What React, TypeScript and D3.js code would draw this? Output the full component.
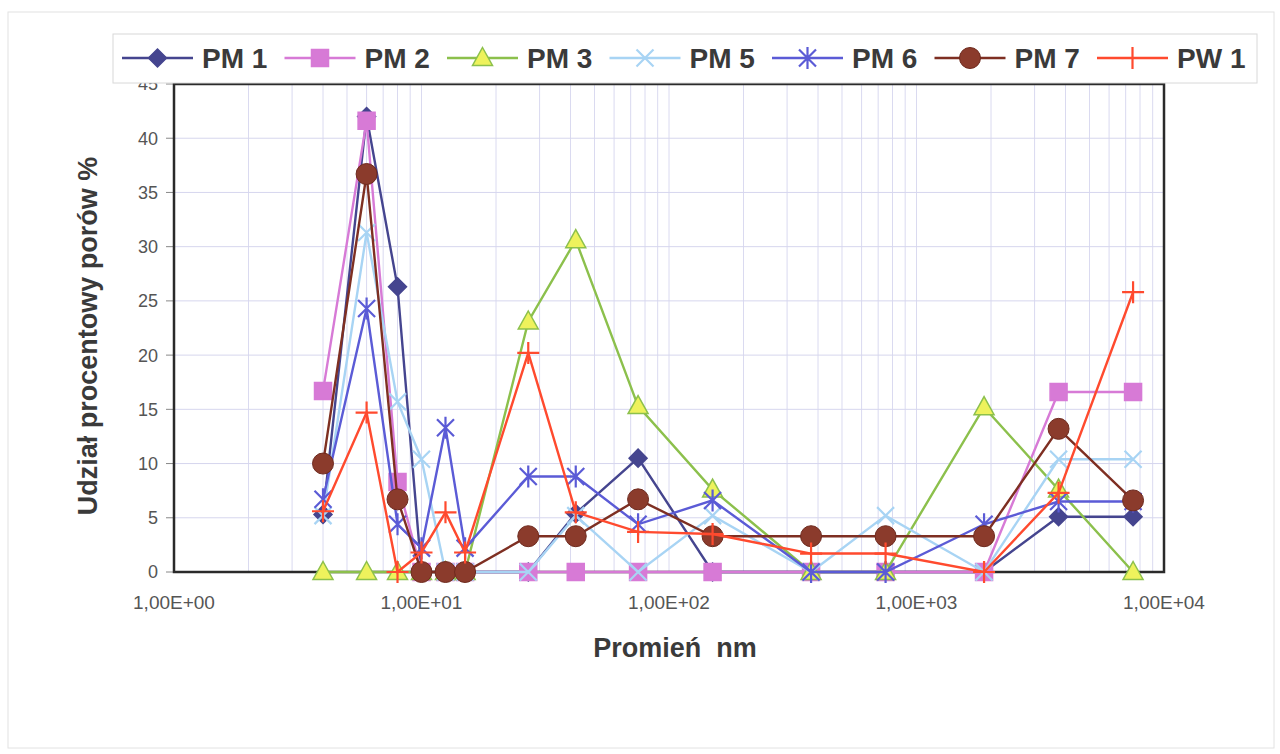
import { useEffect, useRef } from "react";
import * as d3 from "d3";

const WIDTH = 1280;
const HEIGHT = 754;

// pore radius (nm) – shared x values
const radii = [4, 6, 8, 10, 12.5, 15, 27, 42, 75, 150, 375, 750, 1875, 3750, 7500];

const pm1 = [5.3, 42.0, 26.3, 0, 0, 0, 0, 5.4, 10.5, 0, 0, 0, 0, 5.1, 5.1];
const pm2 = [16.7, 41.6, 8.3, 0, 0, 0, 0, 0, 0, 0, 0, 0, 0, 16.6, 16.6];
const pm3 = [0, 0, 0, 0, 0, 0, 23.1, 30.6, 15.3, 7.6, 0, 0, 15.2, 7.6, 0];
const pm5 = [5.2, 31.3, 15.7, 10.4, 0, 0, 0, 5.2, 0, 5.2, 0, 5.2, 0, 10.4, 10.4];
const pm6 = [6.7, 24.3, 4.4, 2.2, 13.3, 2.2, 8.8, 8.8, 4.4, 6.6, 0, 0, 4.4, 6.5, 6.5];
const pm7 = [10.0, 36.7, 6.7, 0, 0, 0, 3.3, 3.3, 6.7, 3.3, 3.3, 3.3, 3.3, 13.2, 6.6];
const pw1 = [5.6, 14.7, 0, 1.8, 5.5, 1.8, 20.2, 5.5, 3.7, 3.5, 1.7, 1.7, 0, 7.3, 25.8];

const seriesNames = ["PM 1", "PM 2", "PM 3", "PM 5", "PM 6", "PM 7", "PW 1"];
const xTickLabels = ["1,00E+00", "1,00E+01", "1,00E+02", "1,00E+03", "1,00E+04"];
const yTicks = [0, 5, 10, 15, 20, 25, 30, 35, 40, 45];

type Marker = "diamond" | "square" | "triangle" | "x" | "asterisk" | "circle" | "plus";

const styles: { color: string; marker: Marker; fill: string; mstroke: string }[] = [
  { color: "#45458f", marker: "diamond", fill: "#45458f", mstroke: "#45458f" },
  { color: "#d77ad6", marker: "square", fill: "#d77ad6", mstroke: "#d77ad6" },
  { color: "#8cc04c", marker: "triangle", fill: "#eef25c", mstroke: "#8cc04c" },
  { color: "#a8d4f4", marker: "x", fill: "none", mstroke: "#a8d4f4" },
  { color: "#5b5bd6", marker: "asterisk", fill: "none", mstroke: "#5b5bd6" },
  { color: "#7e2f22", marker: "circle", fill: "#8b3b2c", mstroke: "#6e2a1e" },
  { color: "#ff4a2e", marker: "plus", fill: "none", mstroke: "#ff4a2e" },
];

const allSeries = [pm1, pm2, pm3, pm5, pm6, pm7, pw1];

function markerPath(m: Marker) {
  switch (m) {
    case "diamond":
      return "M0,-9L9,0L0,9L-9,0Z";
    case "square":
      return "M-8.5,-8.5H8.5V8.5H-8.5Z";
    case "triangle":
      return "M0,-10.5L10,7.5L-10,7.5Z";
    case "x":
      return "M-8.5,-8.5L8.5,8.5M-8.5,8.5L8.5,-8.5";
    case "asterisk":
      return "M-8.5,-8.5L8.5,8.5M-8.5,8.5L8.5,-8.5M0,-11V11";
    case "plus":
      return "M-11,0H11M0,-11V11";
    default:
      return "";
  }
}

function drawMarker(g: d3.Selection<SVGGElement, unknown, null, undefined>, m: Marker, cx: number, cy: number, st: (typeof styles)[number]) {
  if (m === "circle") {
    g.append("circle")
      .attr("cx", cx)
      .attr("cy", cy)
      .attr("r", 10.5)
      .attr("fill", st.fill)
      .attr("stroke", st.mstroke)
      .attr("stroke-width", 1);
    return;
  }
  g.append("path")
    .attr("transform", `translate(${cx},${cy})`)
    .attr("d", markerPath(m))
    .attr("fill", st.fill)
    .attr("stroke", st.mstroke)
    .attr("stroke-width", m === "x" || m === "asterisk" || m === "plus" ? 2.2 : 1.5);
}

export default function App() {
  const ref = useRef<SVGSVGElement>(null);

  useEffect(() => {
    if (!ref.current) return;
    const svg = d3.select(ref.current);
    svg.selectAll("*").remove();

    const left = 174,
      right = 1164,
      top = 84,
      bottom = 572;

    const x = d3.scaleLog().domain([1, 1e4]).range([left, right]);
    const y = d3.scaleLinear().domain([0, 45]).range([bottom, top]);

    // page frame
    svg
      .append("rect")
      .attr("x", 8)
      .attr("y", 12)
      .attr("width", 1266)
      .attr("height", 736)
      .attr("fill", "white")
      .attr("stroke", "#e2e2e2");

    const grid = svg.append("g");
    // vertical minor/major gridlines
    const vLines: number[] = [];
    for (let d = 0; d < 4; d++) {
      for (let m = 1; m <= 9; m++) {
        const v = m * Math.pow(10, d);
        if (v > 1) vLines.push(v);
      }
    }
    grid
      .selectAll("line.v")
      .data(vLines)
      .join("line")
      .attr("x1", (d) => x(d))
      .attr("x2", (d) => x(d))
      .attr("y1", top)
      .attr("y2", bottom)
      .attr("stroke", "#dadaf0")
      .attr("stroke-width", 1);
    grid
      .selectAll("line.h")
      .data(yTicks.slice(1, -1))
      .join("line")
      .attr("x1", left)
      .attr("x2", right)
      .attr("y1", (d) => y(d))
      .attr("y2", (d) => y(d))
      .attr("stroke", "#d6d6ee")
      .attr("stroke-width", 1);

    // y ticks and labels
    const yAx = svg.append("g");
    yAx
      .selectAll("line")
      .data(yTicks)
      .join("line")
      .attr("x1", left - 8)
      .attr("x2", left)
      .attr("y1", (d) => y(d))
      .attr("y2", (d) => y(d))
      .attr("stroke", "#888");
    yAx
      .selectAll("text")
      .data(yTicks)
      .join("text")
      .attr("x", 158)
      .attr("y", (d) => y(d))
      .attr("dy", "0.36em")
      .attr("text-anchor", "end")
      .attr("font-family", "Liberation Sans, Arial, sans-serif")
      .attr("font-size", 18)
      .attr("fill", "#555")
      .text((d) => d);

    // x labels
    svg
      .append("g")
      .selectAll("text")
      .data(xTickLabels)
      .join("text")
      .attr("x", (_, i) => x(Math.pow(10, i)))
      .attr("y", 609)
      .attr("text-anchor", "middle")
      .attr("font-family", "Liberation Sans, Arial, sans-serif")
      .attr("font-size", 19)
      .attr("fill", "#555")
      .text((d) => d);

    // plot frame
    svg
      .append("rect")
      .attr("x", left)
      .attr("y", top)
      .attr("width", right - left)
      .attr("height", bottom - top)
      .attr("fill", "none")
      .attr("stroke", "#2a2a2a")
      .attr("stroke-width", 2.5);

    // series
    const line = d3
      .line<number>()
      .x((_, i) => x(radii[i]))
      .y((d) => y(d));

    allSeries.forEach((vals, si) => {
      const st = styles[si];
      const g = svg.append("g");
      g.append("path")
        .attr("d", line(vals) as string)
        .attr("fill", "none")
        .attr("stroke", st.color)
        .attr("stroke-width", 2.4);
      vals.forEach((v, i) => drawMarker(g, st.marker, x(radii[i]), y(v), st));
    });

    // legend
    const lg = svg.append("g");
    lg.append("rect")
      .attr("x", 113)
      .attr("y", 34)
      .attr("width", 1144)
      .attr("height", 49)
      .attr("fill", "white")
      .attr("stroke", "#d8d8d8");
    seriesNames.forEach((name, i) => {
      const st = styles[i];
      const lx = 122 + i * 162.5;
      const ly = 58;
      const item = lg.append("g");
      item
        .append("line")
        .attr("x1", lx)
        .attr("x2", lx + 71)
        .attr("y1", ly)
        .attr("y2", ly)
        .attr("stroke", st.color)
        .attr("stroke-width", 2.4);
      drawMarker(item, st.marker, lx + 35.5, ly, st);
      item
        .append("text")
        .attr("x", lx + 80)
        .attr("y", ly)
        .attr("dy", "0.36em")
        .attr("font-family", "Liberation Sans, Arial, sans-serif")
        .attr("font-weight", "bold")
        .attr("font-size", 28)
        .attr("fill", "#3a3a3a")
        .text(name);
    });

    // axis titles
    svg
      .append("text")
      .attr("transform", `translate(97,${(top + bottom) / 2 + 8}) rotate(-90)`)
      .attr("text-anchor", "middle")
      .attr("font-family", "Liberation Sans, Arial, sans-serif")
      .attr("font-weight", "bold")
      .attr("font-size", 27)
      .attr("fill", "#3a3a3a")
      .text("Udział procentowy porów %");

    svg
      .append("text")
      .attr("x", 675)
      .attr("y", 657)
      .attr("text-anchor", "middle")
      .attr("font-family", "Liberation Sans, Arial, sans-serif")
      .attr("font-weight", "bold")
      .attr("font-size", 27)
      .attr("fill", "#3a3a3a")
      .text("Promień\u00a0\u00a0nm");
  }, []);

  return (
    <svg
      ref={ref}
      width={WIDTH}
      height={HEIGHT}
      style={{ position: "absolute", left: 0, top: 0, background: "white" }}
    />
  );
}
